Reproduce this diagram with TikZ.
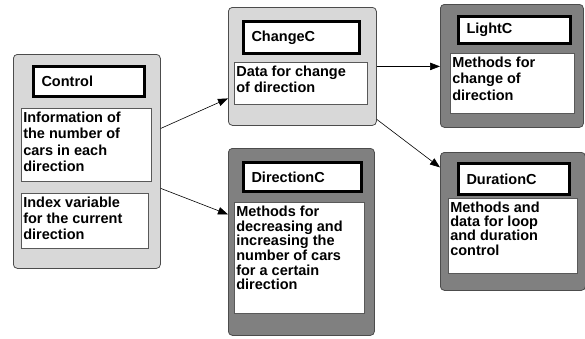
\documentclass[tikz,border=0pt]{standalone}
\usepackage{fontspec}
\setmainfont{Liberation Sans}
\usetikzlibrary{arrows.meta}

\definecolor{lightclass}{RGB}{216,216,216}
\definecolor{darkclass}{RGB}{128,128,128}

% text block that stays at the top of its field
\newcommand{\fieldtext}[3]{\parbox[t][#2][t]{#1}{#3}}

\tikzset{
	classbox/.style={draw=black!70, line width=0.8pt, rounded corners=4pt,
		anchor=north west, inner sep=0pt},
	lightbox/.style={classbox, fill=lightclass},
	darkbox/.style={classbox, fill=darkclass},
	namebox/.style={draw=black, line width=3pt, fill=white, anchor=north west,
		inner xsep=8pt, inner ysep=0pt, text width=#1, align=left,
		font=\fontsize{14.5}{16}\selectfont\bfseries},
	field/.style={draw=black!65, line width=0.6pt, fill=white, anchor=north west,
		inner xsep=2pt, inner ysep=3.5pt,
		font=\fontsize{14.5}{#1}\selectfont\bfseries},
	field/.default=16.5pt,
	link/.style={-{Triangle[length=10pt,width=7.5pt]}, line width=0.6pt}
}

\begin{document}
\begin{tikzpicture}[x=1pt,y=-1pt]
	\useasboundingbox (0,0) rectangle (585,338);

	%class frames
	\node[lightbox, minimum width=147pt, minimum height=214pt] (control)   at (13,54)  {};
	\node[lightbox, minimum width=148pt, minimum height=118pt] (changec)   at (228,7)  {};
	\node[darkbox,  minimum width=146pt, minimum height=187pt] (directionc) at (228,148) {};
	\node[darkbox,  minimum width=143pt, minimum height=123pt] (lightc)    at (440,4)  {};
	\node[darkbox,  minimum width=145pt, minimum height=138pt] (durationc) at (440,152) {};

	%class names
	\node[namebox=95pt,  minimum height=30pt] (controlname)    at (32,65)   {Control};
	\node[namebox=100pt, minimum height=32pt] (changecname)    at (242,20)  {ChangeC};
	\node[namebox=102pt, minimum height=29pt] (directioncname) at (242,161) {DirectionC};
	\node[namebox=96pt,  minimum height=27pt] (lightcname)     at (457,15)  {LightC};
	\node[namebox=95pt,  minimum height=31pt] (durationcname)  at (457,162) {DurationC};

	%fields
	\node[field] (ctrlcount) at (21,108)
		{\fieldtext{126pt}{66pt}{Information of\\the number of\\cars in each\\direction}};
	\node[field=16pt] (ctrlindex) at (21,193)
		{\fieldtext{123pt}{48pt}{Index variable\\for the current\\direction}};
	\node[field=16pt] (changedata) at (234,62)
		{\fieldtext{129pt}{35pt}{Data for change\\of direction}};
	\node[field=14.7pt] (dirmethods) at (234,202)
		{\fieldtext{126pt}{104pt}{Methods for\\decreasing and\\increasing the\\number of cars\\for a certain\\direction}};
	\node[field] (lightmethods) at (450,53)
		{\fieldtext{120pt}{53pt}{Methods for\\change of\\direction}};
	\node[field=14.3pt] (durmethods) at (448,198)
		{\fieldtext{125pt}{68pt}{Methods and\\data for loop\\and duration\\control}};

	%links
	\draw[link] ([yshift=33pt]control.east)  -- ([yshift=-32pt]changec.west);
	\draw[link] ([yshift=-27pt]control.east) -- ([yshift=27.5pt]directionc.west);
	\draw[link] (changec.east) -- (changec.east -| lightc.west);
	\draw[link] ([yshift=-53pt]changec.east) -- ([yshift=54pt]durationc.west);
\end{tikzpicture}
\end{document}
